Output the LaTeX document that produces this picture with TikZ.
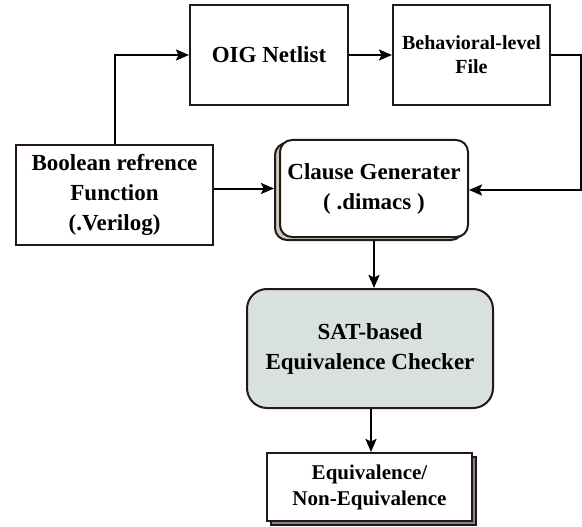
\documentclass[tikz,border=0pt]{standalone}
\usepackage{fontspec}
\setmainfont{Liberation Serif}
\usepackage{xcolor}
\usepackage{tikz}
\usetikzlibrary{arrows.meta, calc, positioning, shadows}

\definecolor{boxline}{HTML}{231815}
\definecolor{satfill}{HTML}{D9E1DC}
\definecolor{shadefill}{HTML}{C8CCBC}
\definecolor{stackfill}{HTML}{8A8585}

\tikzset{
  blockbox/.style={draw=boxline, line width=2pt, fill=white, align=center, inner sep=0pt,
    font=\fontsize{23}{30}\selectfont\bfseries},
  arr/.style={line width=2pt, -{Stealth[length=13pt, width=11pt, inset=2.5pt]}},
}

\begin{document}
\begin{tikzpicture}[x=1pt, y=-1pt]
  \useasboundingbox (0,0) rectangle (582,527);
  \node[blockbox, minimum width=158pt, minimum height=100pt] (oig) at (269,55) {OIG Netlist};
  \node[blockbox, minimum width=157pt, minimum height=100pt, font=\fontsize{20}{24}\selectfont\bfseries] (beh) at (471.5,55) {Behavioral-level\\File};
  \node[blockbox, minimum width=197pt, minimum height=100pt] (bool) at (114.5,195) {Boolean refrence\\Function\\(.Verilog)};
  \node[blockbox, rounded corners=12pt, minimum width=188pt, minimum height=97pt,
    copy shadow={shadow xshift=-5pt, shadow yshift=-3pt, fill=shadefill, draw=boxline, line width=2pt}] (clause) at (374,188.5) {Clause Generater\\( .dimacs )};
  \node[blockbox, rounded corners=20pt, fill=satfill, minimum width=246pt, minimum height=119pt] (sat) at (370,348.5) {SAT-based\\Equivalence Checker};
  \node[blockbox, minimum width=205pt, minimum height=68pt, font=\fontsize{21}{26}\selectfont\bfseries,
    copy shadow={shadow xshift=4pt, shadow yshift=-4pt, fill=stackfill, draw=boxline, line width=2pt}] (equiv) at (369.5,487) {Equivalence/\\Non-Equivalence};
  % connectors
  \draw[arr] (bool.north) |- (oig.west);
  \draw[arr] (oig.east) -- (beh.west);
  \draw[arr] (beh.east) -- ++(30,0) |- ([yshift=-1.5pt]clause.east);
  \draw[arr, shorten >=5pt] (bool.east |- clause.west) -- (clause.west);
  \draw[arr, shorten <=3pt] (clause.south) -- (clause.south |- sat.north);
  \draw[arr] ([xshift=1pt]sat.south) -- ([xshift=1pt]sat.south |- equiv.north);
\end{tikzpicture}
\end{document}
